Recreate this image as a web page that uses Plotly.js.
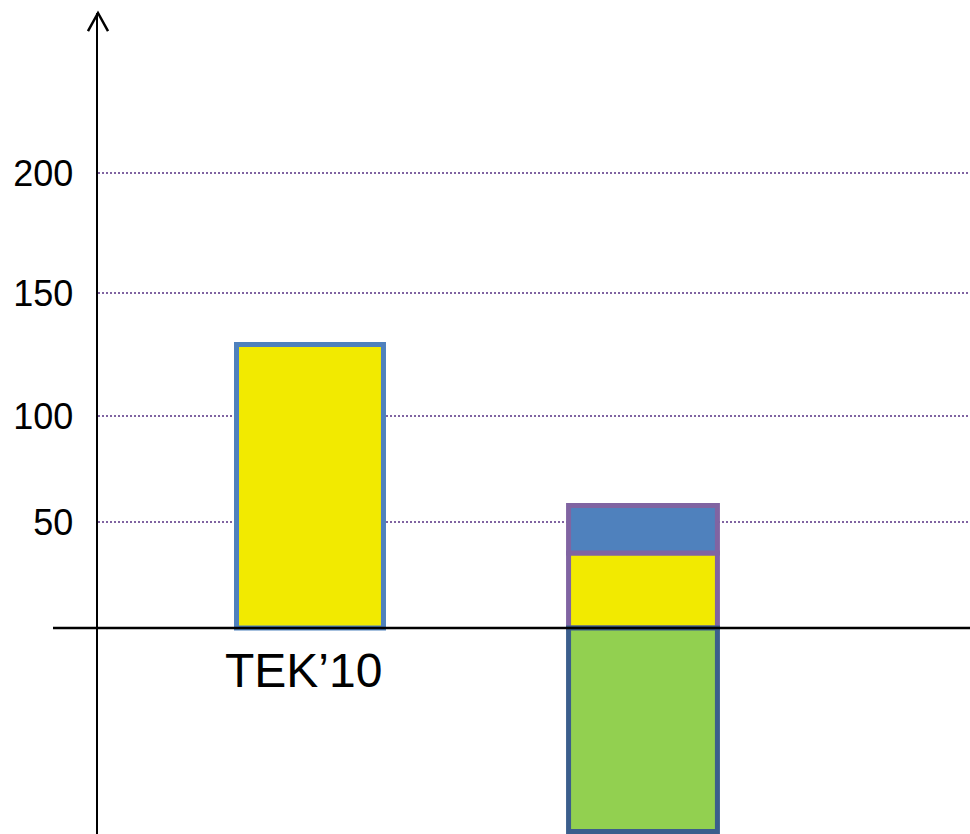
<!DOCTYPE html>
<html>
<head>
<meta charset="utf-8">
<script src="https://cdn.plot.ly/plotly-3.0.1.min.js"></script>
<style>
  html, body { margin: 0; padding: 0; background: #ffffff; }
  #chart { width: 970px; height: 834px; }
</style>
</head>
<body>
<div id="chart"></div>
<script>
// ---- data (in the drawing's axis units) ----
const categories = ["TEK'10", "Alt"];
const yellowVals = [133.7, 35.4];
const blueVals   = [null, 22.4];
const greenVals  = [null, -96];
const tickVals   = [50, 100, 158, 214.4];
const tickText   = ["50", "100", "150", "200"];
const labelCategory = "TEK'10";

// ---- styles ----
const YELLOW = '#F2EA00';
const BLUE = '#4F81BD';
const GREEN = '#92D050';
const PURPLE = '#8064A2';
const DARKBLUE = '#3B5E8C';
const FONT = 'Liberation Sans, Arial, sans-serif';

const traces = [
  {
    type: 'bar', x: categories, y: yellowVals, width: [0.4414, 0.447],
    marker: { color: YELLOW, line: { color: [BLUE, PURPLE], width: 5 } },
    hoverinfo: 'skip', showlegend: false
  },
  {
    type: 'bar', x: categories, y: blueVals, width: [0.4414, 0.447],
    marker: { color: BLUE, line: { color: PURPLE, width: 5 } },
    hoverinfo: 'skip', showlegend: false
  },
  {
    type: 'bar', x: categories, y: greenVals, width: [0.4414, 0.447],
    marker: { color: GREEN, line: { color: DARKBLUE, width: 5 } },
    hoverinfo: 'skip', showlegend: false
  }
];

const layout = {
  width: 970, height: 834,
  margin: { l: 98, r: 0, t: 13, b: 0, pad: 0 },
  paper_bgcolor: '#ffffff', plot_bgcolor: '#ffffff',
  barmode: 'relative',
  font: { family: FONT, color: '#000000' },
  xaxis: {
    type: 'category', range: [-0.6366, 1.982],
    showgrid: false, zeroline: false, showline: false,
    showticklabels: false, ticks: ''
  },
  yaxis: {
    range: [-97.17, 290.09],
    tickmode: 'array', tickvals: tickVals, ticktext: tickText,
    tickfont: { family: FONT, size: 36, color: '#000000' },
    ticks: '', ticklabelstandoff: 15,
    showgrid: true, gridcolor: PURPLE, gridwidth: 2, griddash: '2px,2px',
    zeroline: false,
    showline: true, linecolor: '#000000', linewidth: 2.5
  },
  shapes: [
    { type: 'line', xref: 'paper', yref: 'y', x0: -0.0516, x1: 1, y0: 0, y1: 0,
      line: { color: '#000000', width: 2.5 }, layer: 'above' },
    { type: 'path', xref: 'paper', yref: 'paper',
      path: 'M -0.0115,0.978 L 0,1 L 0.0115,0.978',
      line: { color: '#000000', width: 2.5 }, layer: 'above' }
  ],
  annotations: [
    { xref: 'x', yref: 'y', x: labelCategory, y: 0, text: "TEK’10",
      showarrow: false, yanchor: 'top', xanchor: 'center', xshift: -6, yshift: -14,
      font: { family: FONT, size: 48, color: '#000000' } }
  ]
};

Plotly.newPlot('chart', traces, layout, { displayModeBar: false, staticPlot: true });
</script>
</body>
</html>
